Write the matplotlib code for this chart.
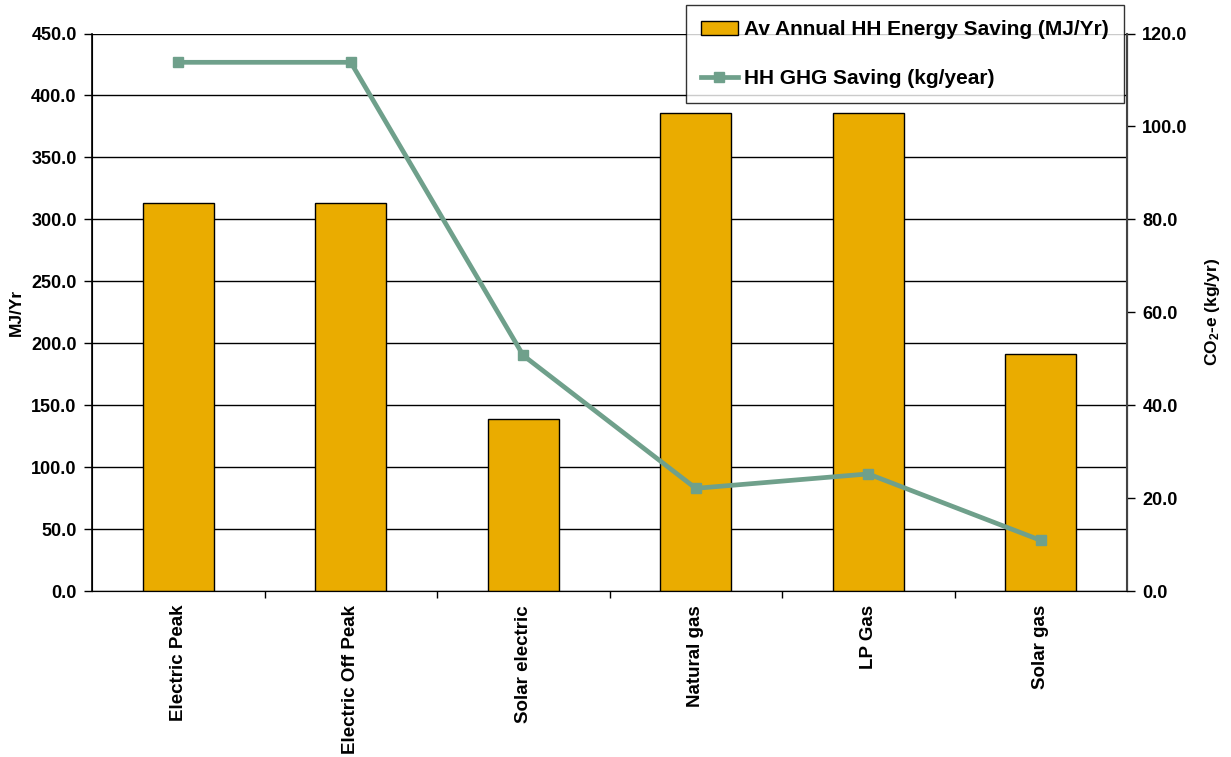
import matplotlib
matplotlib.use("Agg")
import matplotlib.pyplot as plt
import numpy as np
from matplotlib.ticker import FixedLocator, MultipleLocator, FormatStrFormatter

plt.rcParams['font.family'] = ['Liberation Sans', 'DejaVu Sans']
plt.rcParams['font.weight'] = 'bold'
plt.rcParams['mathtext.fontset'] = 'custom'
plt.rcParams['mathtext.rm'] = 'Liberation Sans:bold'
plt.rcParams['mathtext.bf'] = 'Liberation Sans:bold'
plt.rcParams['mathtext.it'] = 'Liberation Sans:bold'

categories = ["Electric Peak", "Electric Off Peak", "Solar electric", "Natural gas", "LP Gas", "Solar gas"]
energy_saving = [313, 313, 139, 386, 386, 191]
ghg_saving = [113.8, 113.8, 50.7, 22.1, 25.2, 10.9]

bar_color = "#EAAC00"
line_color = "#6FA08B"

fig = plt.figure(figsize=(12.31, 7.57), dpi=100)
ax = fig.add_axes([92/1231, 1-591/757, (1127-92)/1231, (591-33.5)/757])
ax2 = ax.twinx()

x = np.arange(len(categories))
bars = ax.bar(x, energy_saving, width=0.41, color=bar_color, edgecolor='black', linewidth=1.0,
              label="Av Annual HH Energy Saving (MJ/Yr)", zorder=3)
line, = ax2.plot(x, ghg_saving, color=line_color, linewidth=3.4, marker='s', markersize=7.5,
                 label="HH GHG Saving (kg/year)", zorder=4)

ax.set_xlim(-0.5, len(categories) - 0.5)
ax.set_ylim(0, 450)
ax2.set_ylim(0, 120)
ax.yaxis.set_major_locator(MultipleLocator(50))
ax.yaxis.set_major_formatter(FormatStrFormatter('%.1f'))
ax2.yaxis.set_major_locator(MultipleLocator(20))
ax2.yaxis.set_major_formatter(FormatStrFormatter('%.1f'))

ax.grid(axis='y', color='black', linewidth=1.0, zorder=0)
ax.set_axisbelow(True)

ax.set_xticks(x)
ax.set_xticklabels(categories, rotation=90, fontsize=13.5, fontweight='bold')
ax.tick_params(axis='x', which='major', length=0, pad=10)
ax.xaxis.set_minor_locator(FixedLocator(np.arange(0.5, len(categories) - 1, 1.0)))
ax.tick_params(axis='x', which='minor', length=5, width=1, direction='out')

ax.tick_params(axis='y', labelsize=13, length=6, width=1, direction='out', pad=5)
ax2.tick_params(axis='y', labelsize=13, length=6, width=1, direction='out', pad=5)
for lbl in ax.get_yticklabels() + ax2.get_yticklabels():
    lbl.set_fontweight('bold')

ax.spines['top'].set_visible(False)
ax2.spines['top'].set_visible(False)
ax2.spines['right'].set_color('#444444')
ax2.spines['right'].set_linewidth(1.5)
ax.spines['left'].set_linewidth(1.2)

ax.set_ylabel("MJ/Yr", fontsize=12.5, fontweight='bold', labelpad=5)
ax2.set_ylabel(r"CO$_{2}$-e (kg/yr)", fontsize=12.5, fontweight='bold', labelpad=11)

leg = fig.legend([bars, line], [bars.get_label(), line.get_label()],
                 loc='upper right', bbox_to_anchor=(1124/1231, 1-5/757),
                 fontsize=15, frameon=True, fancybox=False, edgecolor='black',
                 labelspacing=1.45, handlelength=1.8, handleheight=0.65, handletextpad=0.3,
                 borderpad=0.72, borderaxespad=0)
leg.get_frame().set_linewidth(1.0)
for t in leg.get_texts():
    t.set_fontweight('bold')

fig.savefig("out.png", dpi=100)
